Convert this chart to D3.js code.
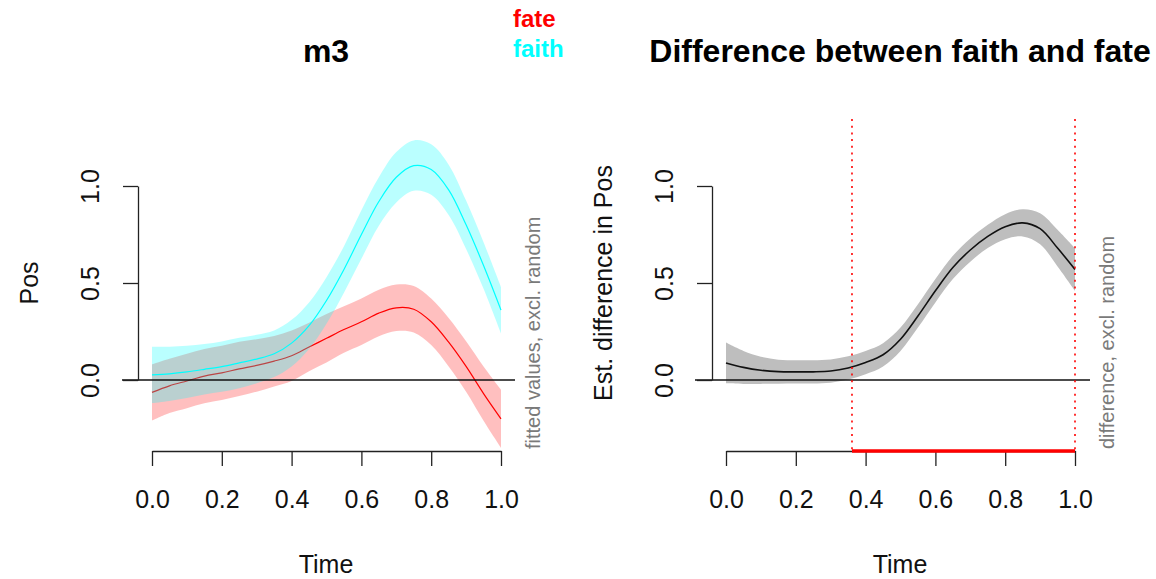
<!DOCTYPE html>
<html>
<head>
<meta charset="utf-8">
<style>
  body { margin: 0; background: #fff; }
  svg { font-family: "Liberation Sans", Arial, sans-serif; }
</style>
</head>
<body>
<svg id="chart"></svg>
<script src="https://d3js.org/d3.v7.min.js"></script>
<script>
const width = 1156, height = 579;

// time points (0 .. 1 by 0.05)
const time = [0, 0.05, 0.1, 0.15, 0.2, 0.25, 0.3, 0.35, 0.4, 0.45, 0.5,
              0.55, 0.6, 0.65, 0.7, 0.75, 0.8, 0.85, 0.9, 0.95, 1.0];

// fitted values, excl. random
const fateFit   = [-0.064, -0.03, -0.005, 0.02, 0.037, 0.057, 0.075, 0.097, 0.125, 0.17, 0.215,
                   0.26, 0.30, 0.345, 0.372, 0.365, 0.30, 0.195, 0.07, -0.07, -0.20];
const fateCI    = [0.145, 0.14, 0.14, 0.14, 0.14, 0.14, 0.135, 0.13, 0.13, 0.125, 0.125,
                   0.12, 0.12, 0.12, 0.12, 0.12, 0.12, 0.125, 0.13, 0.14, 0.15];
const faithFit  = [0.026, 0.032, 0.042, 0.055, 0.069, 0.088, 0.108, 0.135, 0.19, 0.28, 0.41,
                   0.57, 0.75, 0.92, 1.045, 1.105, 1.085, 0.98, 0.80, 0.59, 0.36];
const faithCI   = [0.145, 0.14, 0.135, 0.13, 0.13, 0.13, 0.125, 0.12, 0.12, 0.12, 0.12,
                   0.12, 0.125, 0.125, 0.13, 0.13, 0.13, 0.13, 0.125, 0.12, 0.12];

// difference faith - fate
const diffFit   = [0.088, 0.065, 0.05, 0.043, 0.042, 0.042, 0.046, 0.062, 0.09, 0.13, 0.21,
                   0.33, 0.46, 0.58, 0.67, 0.74, 0.79, 0.81, 0.78, 0.68, 0.57];
const diffCI    = [0.105, 0.085, 0.07, 0.062, 0.06, 0.06, 0.06, 0.06, 0.06, 0.06, 0.06,
                   0.06, 0.06, 0.06, 0.06, 0.06, 0.065, 0.07, 0.08, 0.095, 0.11];
const sigRange  = [0.361, 1.0];

const xTicks = [0, 0.2, 0.4, 0.6, 0.8, 1.0];
const yTicks = [0, 0.5, 1.0];

const svg = d3.select('#chart').attr('width', width).attr('height', height);

const yTop = 119, xAxisY = 451;

function panel(opt) {
  const g = svg.append('g');
  const x = d3.scaleLinear().domain([0, 1]).range([opt.x0, opt.x0 + 349]);
  const y = d3.scaleLinear().domain([0, 1]).range([380, 186]);
  const axisX = opt.x0 - 14;

  const area = (fit, ci) => d3.area()
    .x((d, i) => x(time[i]))
    .y0((d, i) => y(fit[i] - ci[i]))
    .y1((d, i) => y(fit[i] + ci[i]))
    .curve(d3.curveCatmullRom)(time);
  const line = fit => d3.line()
    .x((d, i) => x(time[i]))
    .y((d, i) => y(fit[i]))
    .curve(d3.curveCatmullRom)(time);

  opt.draw(g, x, y, area, line);

  // zero line
  g.append('line')
    .attr('x1', opt.zeroFrom).attr('x2', opt.zeroTo)
    .attr('y1', y(0)).attr('y2', y(0))
    .attr('stroke', '#111').attr('stroke-width', 1.4);

  // x axis
  const xa = g.append('g').attr('transform', `translate(0,${xAxisY})`)
    .call(d3.axisBottom(x).tickValues(xTicks).tickFormat(d3.format('.1f'))
      .tickSize(15).tickSizeOuter(0).tickPadding(24));
  xa.selectAll('path,line').attr('stroke', '#222').attr('stroke-width', 1.3);
  xa.selectAll('text').attr('font-size', 25).attr('fill', '#111')
    .attr('font-family', '"Liberation Sans", Arial, sans-serif');

  // y axis
  const ya = g.append('g').attr('transform', `translate(${axisX},0)`)
    .call(d3.axisLeft(y).tickValues(yTicks).tickFormat(d3.format('.1f'))
      .tickSize(15).tickSizeOuter(0));
  ya.selectAll('path,line').attr('stroke', '#222').attr('stroke-width', 1.3);
  ya.selectAll('text').attr('font-size', 25).attr('fill', '#111')
    .attr('font-family', '"Liberation Sans", Arial, sans-serif')
    .attr('x', 0).attr('dy', 0).attr('text-anchor', 'middle')
    .attr('transform', 'translate(-39,0) rotate(-90)');

  if (opt.after) opt.after(g, x, y);

  // titles and labels
  g.append('text').attr('x', opt.cx).attr('y', 62)
    .attr('text-anchor', 'middle').attr('font-size', 32).attr('font-weight', 'bold')
    .text(opt.title);
  g.append('text').attr('x', opt.cx).attr('y', 573)
    .attr('text-anchor', 'middle').attr('font-size', 25).attr('fill', '#111')
    .text('Time');
  g.append('text')
    .attr('transform', `translate(${axisX - 100},${y(0.5)}) rotate(-90)`)
    .attr('text-anchor', 'middle').attr('font-size', 25).attr('fill', '#111')
    .text(opt.ylab);
  g.append('text')
    .attr('transform', `translate(${axisX + 402},449) rotate(-90)`)
    .attr('text-anchor', 'start').attr('font-size', 20).attr('fill', '#7a7a7a')
    .text(opt.side);
  return { x, y };
}

// left: fitted smooths
panel({
  x0: 152, cx: 326, zeroFrom: 122, zeroTo: 515,
  title: 'm3', ylab: 'Pos', side: 'fitted values, excl. random',
  draw: (g, x, y, area, line) => {
    g.append('path').attr('d', area(fateFit, fateCI)).attr('fill', 'red').attr('fill-opacity', 0.25);
    g.append('path').attr('d', line(fateFit)).attr('fill', 'none').attr('stroke', 'red').attr('stroke-width', 1.2);
    g.append('path').attr('d', area(faithFit, faithCI)).attr('fill', 'cyan').attr('fill-opacity', 0.27);
    g.append('path').attr('d', line(faithFit)).attr('fill', 'none').attr('stroke', 'cyan').attr('stroke-width', 1.2);
  }
});

// legend
svg.append('text').attr('x', 513).attr('y', 27).attr('font-size', 24)
  .attr('font-weight', 'bold').attr('fill', 'red').text('fate');
svg.append('text').attr('x', 513).attr('y', 57).attr('font-size', 24)
  .attr('font-weight', 'bold').attr('fill', 'cyan').text('faith');

// right: difference
panel({
  x0: 726, cx: 900, zeroFrom: 695, zeroTo: 1090,
  title: 'Difference between faith and fate', ylab: 'Est. difference in Pos',
  side: 'difference, excl. random',
  draw: (g, x, y, area, line) => {
    g.append('path').attr('d', area(diffFit, diffCI)).attr('fill', '#bebebe');
    g.append('path').attr('d', line(diffFit)).attr('fill', 'none').attr('stroke', '#111').attr('stroke-width', 1.6);
  },
  after: (g, x, y) => {
    sigRange.forEach(v => {
      g.append('line').attr('x1', x(v)).attr('x2', x(v)).attr('y1', yTop).attr('y2', xAxisY)
        .attr('stroke', 'red').attr('stroke-width', 1.6).attr('stroke-dasharray', '2,4.7');
    });
    g.append('line').attr('x1', x(sigRange[0])).attr('x2', x(sigRange[1]))
      .attr('y1', xAxisY).attr('y2', xAxisY)
      .attr('stroke', 'red').attr('stroke-width', 3.5);
  }
});
</script>
</body>
</html>
